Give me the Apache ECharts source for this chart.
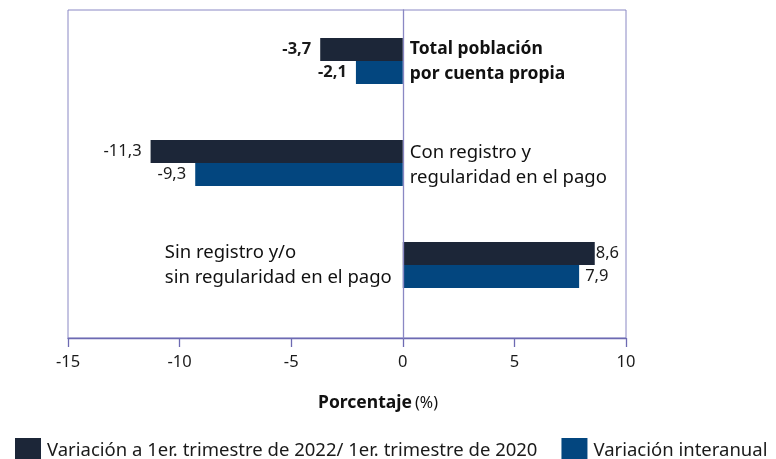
<!DOCTYPE html>
<html>
<head>
<meta charset="utf-8">
<script src="https://cdn.jsdelivr.net/npm/echarts@6/dist/echarts.min.js"></script>
<style>
  html, body { margin: 0; padding: 0; background: #fff; }
  #chart { width: 776px; height: 459px; }
</style>
</head>
<body>
<div id="chart"></div>
<script>
// categorías (de arriba hacia abajo)
const categorias = ['Total población\npor cuenta propia', 'Con registro y\nregularidad en el pago', 'Sin registro y/o\nsin regularidad en el pago']
const variacion2022_2020 = [-3.7, -11.3, 8.6]
const variacionInteranual = [-2.1, -9.3, 7.9]
const ticksX = [-15, -10, -5, 0, 5, 10]
const nombresSeries = ['Variación a 1er. trimestre de 2022/ 1er. trimestre de 2020', 'Variación interanual']

const fuente = 'Noto Sans'
const coma = v => String(v).replace('.', ',')

// ancho del texto, para alinear a la izquierda las lineas de la etiqueta que va a la izquierda del cero
const ctx = document.createElement('canvas').getContext('2d')
function ancho(txt, size, peso) {
  ctx.font = peso + ' ' + size + 'px "' + fuente + '"'
  return Math.max(...txt.split('\n').map(l => ctx.measureText(l).width))
}

// etiqueta de valor a la izquierda o derecha segun el signo
function puntos(arr, distPos) {
  return arr.map((v, i) => ({
    value: v,
    label: {
      position: v < 0 ? 'left' : 'right',
      distance: v < 0 ? 9 : distPos,
      fontWeight: i === 0 ? 'bold' : 'normal'
    }
  }))
}

// nombres de categoria junto al eje cero (el punto cae en la barra oscura, se baja media barra)
const marcas = categorias.map((c, i) => {
  const izq = variacion2022_2020[i] > 0
  const negrita = i === 0
  const size = negrita ? 17.5 : 18.5
  const w = Math.ceil(ancho(c, size, negrita ? 'bold' : 'normal')) + 1
  return {
    coord: [0, i],
    label: {
      show: true,
      formatter: c.split('\n').map(l => '{t|' + l + '}').join('\n'),
      position: izq ? 'left' : 'right',
      distance: izq ? 10 : 7,
      align: izq ? 'right' : 'left',
      offset: [0, i === 1 ? 14 : 12],
      rich: {
        t: {
          width: w,
          align: 'left',
          fontSize: size,
          lineHeight: 25,
          fontWeight: negrita ? 'bold' : 'normal',
          color: '#111',
          fontFamily: fuente
        }
      }
    }
  }
})

const chart = echarts.init(document.getElementById('chart'))

const option = {
  animation: false,
  textStyle: { fontFamily: fuente },
  grid: [
    { left: 68, right: 150, top: 10, bottom: 121, show: true, borderColor: '#8a88c4', borderWidth: 1, backgroundColor: 'transparent' },
    { left: 68, right: 150, top: 10, height: 306 }
  ],
  legend: {
    data: nombresSeries,
    left: 10,
    top: 433,
    itemWidth: 26,
    itemHeight: 26,
    itemGap: 24,
    icon: 'rect',
    textStyle: { fontSize: 18.5, color: '#1a1a1a', fontFamily: fuente, padding: [0, 0, 0, 1] }
  },
  xAxis: [
    {
      gridIndex: 0,
      type: 'value',
      min: ticksX[0],
      max: ticksX[ticksX.length - 1],
      interval: 5,
      axisLine: { show: true, onZero: false, lineStyle: { color: '#6d6ab2', width: 1.3 } },
      axisTick: { show: true, length: 9, lineStyle: { color: '#6d6ab2', width: 1.3 } },
      splitLine: { show: false },
      axisLabel: { fontSize: 16.5, color: '#1a1a1a', margin: 16, fontFamily: fuente },
      name: '{b|Porcentaje} {n|(%)}',
      nameLocation: 'middle',
      nameGap: 56,
      nameTextStyle: {
        padding: [0, 0, 0, 62],
        rich: {
          b: { fontSize: 17.5, fontWeight: 'bold', color: '#111', fontFamily: fuente },
          n: { fontSize: 16, color: '#111', fontFamily: fuente }
        }
      }
    },
    {
      gridIndex: 1,
      type: 'value',
      min: ticksX[0],
      max: ticksX[ticksX.length - 1],
      show: false
    }
  ],
  yAxis: [
    {
      gridIndex: 0,
      type: 'value',
      min: 0,
      max: 1,
      axisLine: { show: true, onZero: true, lineStyle: { color: '#8a88c4', width: 1.3 } },
      axisTick: { show: false },
      axisLabel: { show: false },
      splitLine: { show: false },
      z: 5
    },
    {
      gridIndex: 1,
      type: 'category',
      inverse: true,
      data: categorias,
      show: false
    }
  ],
  series: [
    {
      name: nombresSeries[0],
      type: 'bar',
      xAxisIndex: 1,
      yAxisIndex: 1,
      barWidth: 23,
      barGap: '0%',
      itemStyle: { color: '#1c2638' },
      label: {
        show: true,
        fontSize: 16.5,
        color: '#1a1a1a',
        fontFamily: fuente,
        formatter: p => coma(p.value)
      },
      data: puntos(variacion2022_2020, 1),
      markPoint: {
        symbol: 'circle',
        symbolSize: 0,
        data: marcas
      }
    },
    {
      name: nombresSeries[1],
      type: 'bar',
      xAxisIndex: 1,
      yAxisIndex: 1,
      barWidth: 23,
      barGap: '0%',
      itemStyle: { color: '#03467f' },
      label: {
        show: true,
        fontSize: 16.5,
        color: '#1a1a1a',
        fontFamily: fuente,
        formatter: p => coma(p.value)
      },
      data: puntos(variacionInteranual, 6)
    }
  ]
}

chart.setOption(option)
</script>
</body>
</html>
